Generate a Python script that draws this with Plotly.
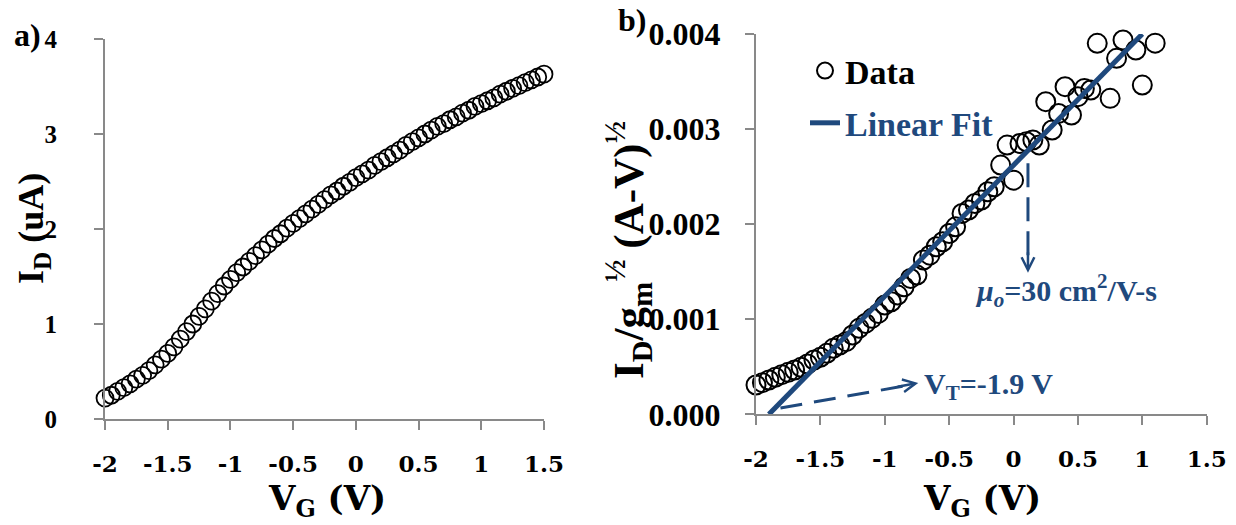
import plotly.graph_objects as go

# ---------------- panel a: drain current vs gate voltage ----------------
vg_a = [-2.00, -1.95, -1.90, -1.85, -1.80, -1.75, -1.70, -1.65, -1.60, -1.55,
        -1.50, -1.45, -1.40, -1.35, -1.30, -1.25, -1.20, -1.15, -1.10, -1.05,
        -1.00, -0.95, -0.90, -0.85, -0.80, -0.75, -0.70, -0.65, -0.60, -0.55,
        -0.50, -0.45, -0.40, -0.35, -0.30, -0.25, -0.20, -0.15, -0.10, -0.05,
        0.00, 0.05, 0.10, 0.15, 0.20, 0.25, 0.30, 0.35, 0.40, 0.45,
        0.50, 0.55, 0.60, 0.65, 0.70, 0.75, 0.80, 0.85, 0.90, 0.95,
        1.00, 1.05, 1.10, 1.15, 1.20, 1.25, 1.30, 1.35, 1.40, 1.45, 1.50]
id_a = [0.22, 0.25, 0.29, 0.33, 0.37, 0.42, 0.46, 0.51, 0.57, 0.63,
        0.69, 0.76, 0.84, 0.92, 1.00, 1.08, 1.16, 1.24, 1.32, 1.40,
        1.47, 1.54, 1.60, 1.66, 1.72, 1.78, 1.84, 1.90, 1.95, 2.01,
        2.06, 2.11, 2.16, 2.21, 2.26, 2.31, 2.36, 2.40, 2.45, 2.49,
        2.54, 2.58, 2.62, 2.67, 2.71, 2.75, 2.79, 2.83, 2.88, 2.92,
        2.96, 3.00, 3.04, 3.08, 3.11, 3.15, 3.18, 3.22, 3.25, 3.29,
        3.32, 3.35, 3.38, 3.42, 3.45, 3.48, 3.51, 3.54, 3.57, 3.60, 3.63]

# ---------------- panel b: I_D / sqrt(g_m) vs gate voltage ----------------
vg_b = [-2.00, -1.95, -1.90, -1.85, -1.80, -1.75, -1.70, -1.65, -1.60, -1.55,
        -1.50, -1.45, -1.40, -1.35, -1.30, -1.25, -1.20, -1.15, -1.10, -1.05,
        -1.00, -0.95, -0.90, -0.85, -0.80, -0.75, -0.70, -0.65, -0.60, -0.55,
        -0.50, -0.45, -0.40, -0.35, -0.30, -0.25, -0.20, -0.15, -0.10, -0.05,
        0.00, 0.05, 0.10, 0.15, 0.20, 0.25, 0.30, 0.35, 0.40, 0.45,
        0.50, 0.55, 0.60, 0.65, 0.75, 0.80, 0.85, 0.95, 1.00, 1.10]
ratio_b = [0.000308, 0.000333, 0.000361, 0.000389, 0.000417, 0.000441, 0.000466, 0.000494, 0.000529, 0.000571,
           0.000599, 0.000641, 0.000694, 0.000729, 0.000764, 0.000834, 0.000904, 0.000956, 0.001009, 0.001061,
           0.001149, 0.001184, 0.001254, 0.001342, 0.001429, 0.001464, 0.001622, 0.001674, 0.001762, 0.001815,
           0.001902, 0.001972, 0.002113, 0.002148, 0.002218, 0.002253, 0.002341, 0.002393, 0.002621, 0.002832,
           0.002463, 0.002849, 0.002867, 0.002885, 0.002832, 0.003288, 0.002990, 0.003165, 0.003446, 0.003148,
           0.003341, 0.003428, 0.003411, 0.003902, 0.003323, 0.003744, 0.003937, 0.003832, 0.003463, 0.003904]

# linear fit: crosses zero at the threshold voltage
v_threshold = -1.9
fit_vg = [v_threshold, 1.0]
fit_ratio = [0.0, 0.004]

# tick labels
ticks_vg = [-2, -1.5, -1, -0.5, 0, 0.5, 1, 1.5]
ticktext_vg = ["-2", "-1.5", "-1", "-0.5", "0", "0.5", "1", "1.5"]
ticks_id = [0, 1, 2, 3, 4]
ticks_ratio = [0.0, 0.001, 0.002, 0.003, 0.004]
ticktext_ratio = ["0.000", "0.001", "0.002", "0.003", "0.004"]

W, H = 1236, 525
BLUE = "#1F497D"
AXIS_GRAY = "#898989"
TIMES = "Liberation Serif"
WIDE = "DejaVu Serif"


def px(x):
    return x / W


def py(y):
    return 1 - y / H


fig = go.Figure()

fig.add_trace(go.Scatter(
    x=vg_a, y=id_a, mode="markers", xaxis="x", yaxis="y", showlegend=False,
    cliponaxis=False,
    marker=dict(symbol="circle-open", size=17, color="black", line=dict(width=1.8)),
))
fig.add_trace(go.Scatter(
    x=vg_b, y=ratio_b, mode="markers", xaxis="x2", yaxis="y2", name="Data",
    legendgroup="d", cliponaxis=False,
    marker=dict(symbol="circle-open", size=19, color="black", line=dict(width=2)),
))
fig.add_trace(go.Scatter(
    x=fit_vg, y=fit_ratio, mode="lines", xaxis="x2", yaxis="y2",
    name=f'<span style="color:{BLUE}">Linear Fit</span>', legendgroup="f",
    cliponaxis=False,
    line=dict(color=BLUE, width=5),
))

axis_common = dict(
    showline=True, linecolor=AXIS_GRAY, linewidth=2, ticks="outside",
    tickcolor=AXIS_GRAY, tickwidth=2, ticklen=9, showgrid=False, zeroline=False,
    fixedrange=True, automargin=False,
)

fig.update_layout(
    template="none",
    width=W, height=H, margin=dict(l=0, r=0, t=0, b=0, pad=0),
    paper_bgcolor="white", plot_bgcolor="white",
    xaxis=dict(domain=[px(105), px(544)], range=[-2, 1.5], anchor="y",
               tickvals=ticks_vg, ticktext=ticktext_vg,
               tickfont=dict(family=WIDE, size=23, weight="bold", color="black"),
               ticklabelstandoff=14, **axis_common),
    yaxis=dict(domain=[1 - 419 / H, 1 - 39 / H], range=[0, 4], anchor="x",
               tickvals=ticks_id,
               tickfont=dict(family=TIMES, size=25, weight="bold", color="black"),
               ticklabelstandoff=32, **axis_common),
    xaxis2=dict(domain=[px(756), px(1206.7)], range=[-2, 1.5], anchor="y2",
                tickvals=ticks_vg, ticktext=ticktext_vg,
                tickfont=dict(family=WIDE, size=23, weight="bold", color="black"),
                ticklabelstandoff=14, **axis_common),
    yaxis2=dict(domain=[1 - 414.3 / H, 1 - 34 / H], range=[0, 0.004], anchor="x2",
                tickvals=ticks_ratio, ticktext=ticktext_ratio,
                tickfont=dict(family=TIMES, size=32, weight="bold", color="black"),
                ticklabelstandoff=18, **axis_common),
    legend=dict(x=px(805), y=py(42), xanchor="left", yanchor="top",
                bgcolor="rgba(0,0,0,0)", traceorder="grouped", tracegroupgap=5,
                font=dict(family=TIMES, size=34, weight="bold", color="black")),
    showlegend=True,
)

# dashed guide arrows for the extracted parameters
fig.add_shape(type="line", xref="x2", yref="y2", x0=-1.81, y0=0.000066, x1=-0.80, y1=0.00031,
              line=dict(color=BLUE, width=3, dash="22px,12px"))
fig.add_shape(type="line", xref="x2", yref="y2", x0=0.112, y0=0.00264, x1=0.112, y1=0.00165,
              line=dict(color=BLUE, width=3, dash="24px,10px"))


def label(x, y, text, size, family=TIMES, color="black", angle=0, xanchor="center"):
    return dict(x=px(x), y=py(y), xref="paper", yref="paper", text=text,
                xanchor=xanchor, yanchor="middle", textangle=angle, showarrow=False,
                font=dict(family=family, size=size, weight="bold", color=color))


annotations = [
    # arrow heads
    dict(x=-0.74, y=0.00033, xref="x2", yref="y2", text="", showarrow=True,
         ax=-22, ay=4, arrowhead=5, arrowsize=1, arrowwidth=2.5, arrowcolor=BLUE),
    dict(x=0.112, y=0.00149, xref="x2", yref="y2", text="", showarrow=True,
         ax=0, ay=-22, arrowhead=5, arrowsize=1, arrowwidth=2.5, arrowcolor=BLUE),
    # parameter labels
    label(922, 386, "V<sub>T</sub>=-1.9 V", 30, color=BLUE, xanchor="left"),
    label(973, 290, "<i>μ<sub>o</sub></i>=30 cm<sup>2</sup>/V-s", 30, color=BLUE, xanchor="left"),
    # panel letters
    label(27, 35, "a)", 32),
    label(632, 20, "b)", 32),
    # axis titles
    label(33, 229, "I<sub>D</sub> (uA)", 36, angle=-90),
    label(327, 500, "V<sub>G</sub> (V)", 34, family=WIDE),
    label(628, 250, "I<sub>D</sub>/g<sub>m</sub><sup>½</sup> (A-V)<sup>½</sup>", 43, angle=-90),
    label(982, 500, "V<sub>G</sub> (V)", 34, family=WIDE),
]
fig.update_layout(annotations=annotations)

fig.write_html("out.html")
